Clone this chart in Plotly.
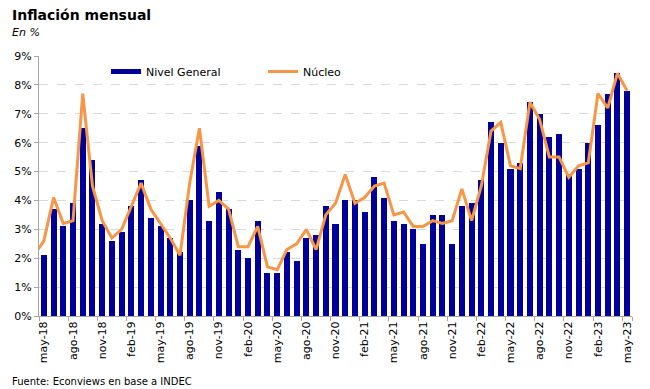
import plotly.graph_objects as go

# Month labels (abr-18 is only used for the line segment entering the plot)
meses = ["abr-18", "may-18", "jun-18", "jul-18", "ago-18", "sep-18", "oct-18", "nov-18", "dic-18",
         "ene-19", "feb-19", "mar-19", "abr-19", "may-19", "jun-19", "jul-19", "ago-19", "sep-19", "oct-19", "nov-19", "dic-19",
         "ene-20", "feb-20", "mar-20", "abr-20", "may-20", "jun-20", "jul-20", "ago-20", "sep-20", "oct-20", "nov-20", "dic-20",
         "ene-21", "feb-21", "mar-21", "abr-21", "may-21", "jun-21", "jul-21", "ago-21", "sep-21", "oct-21", "nov-21", "dic-21",
         "ene-22", "feb-22", "mar-22", "abr-22", "may-22", "jun-22", "jul-22", "ago-22", "sep-22", "oct-22", "nov-22", "dic-22",
         "ene-23", "feb-23", "mar-23", "abr-23", "may-23"]

# Nivel General, may-18 .. may-23 (%)
nivel_general = [2.1, 3.7, 3.1, 3.9, 6.5, 5.4, 3.2, 2.6,
                 2.9, 3.8, 4.7, 3.4, 3.1, 2.7, 2.2, 4.0, 5.9, 3.3, 4.3, 3.7,
                 2.3, 2.0, 3.3, 1.5, 1.5, 2.2, 1.9, 2.7, 2.8, 3.8, 3.2, 4.0,
                 4.0, 3.6, 4.8, 4.1, 3.3, 3.2, 3.0, 2.5, 3.5, 3.5, 2.5, 3.8,
                 3.9, 4.7, 6.7, 6.0, 5.1, 5.3, 7.4, 7.0, 6.2, 6.3, 4.9, 5.1,
                 6.0, 6.6, 7.7, 8.4, 7.8]

# Núcleo, abr-18 .. may-23 (%)
nucleo = [2.1, 2.6, 4.1, 3.2, 3.3, 7.7, 4.5, 3.3, 2.7,
          3.0, 3.8, 4.6, 3.7, 3.2, 2.7, 2.1, 4.6, 6.5, 3.8, 4.0, 3.7,
          2.4, 2.4, 3.1, 1.7, 1.6, 2.3, 2.5, 3.0, 2.3, 3.5, 3.9, 4.9,
          3.9, 4.1, 4.5, 4.6, 3.5, 3.6, 3.1, 3.1, 3.3, 3.2, 3.3, 4.4,
          3.3, 4.5, 6.4, 6.7, 5.2, 5.1, 7.4, 6.8, 5.5, 5.5, 4.8, 5.2,
          5.3, 7.7, 7.2, 8.4, 7.8]

y_ticks = [0, 1, 2, 3, 4, 5, 6, 7, 8, 9]

x_line = list(range(-1, len(meses) - 1))
x_bar = list(range(0, len(nivel_general)))
tick_idx = list(range(0, len(nivel_general), 3))
tick_txt = [meses[i + 1] for i in tick_idx]

BLUE = "#000099"
ORANGE = "#F79646"
FONT = "DejaVu Sans"

fig = go.Figure()
fig.add_trace(go.Bar(x=x_bar, y=nivel_general, marker=dict(color=BLUE, line=dict(width=0)),
                     width=0.62, showlegend=False, name="Nivel General"))
# legend proxies
fig.add_trace(go.Scatter(x=[None], y=[None], mode="lines", line=dict(color=BLUE, width=5),
                         name="Nivel General"))
fig.add_trace(go.Scatter(x=x_line, y=nucleo, mode="lines", line=dict(color=ORANGE, width=3),
                         name="Núcleo", cliponaxis=True))

L, R, T, B = 39, 18, 56, 73
W, H = 650, 389
pw, ph = W - L - R, H - T - B

def px(x):
    return (x - L) / pw

def py(y):
    return (H - B - y) / ph

fig.update_layout(
    width=W, height=H,
    margin=dict(l=L, r=R, t=T, b=B, autoexpand=False),
    paper_bgcolor="white", plot_bgcolor="white",
    font=dict(family=FONT, size=11, color="black"),
    bargap=0,
    legend=dict(orientation="h", x=px(106), y=py(57), xanchor="left", yanchor="top",
                bgcolor="rgba(0,0,0,0)", font=dict(size=11, family=FONT),
                entrywidth=112, entrywidthmode="pixels", itemwidth=30),
    xaxis=dict(range=[-0.5, len(nivel_general) - 0.5], tickmode="array", tickvals=tick_idx,
               ticktext=tick_txt, tickangle=-90, ticks="", showgrid=False, automargin=False,
               showline=True, linecolor="#A6A6A6", linewidth=1,
               tickfont=dict(size=11, family=FONT),
               minor=dict(tickmode="array", tickvals=[i - 0.5 for i in tick_idx] + [60.5],
                          ticks="outside", ticklen=4, tickcolor="#A6A6A6", showgrid=False),
               zeroline=False),
    yaxis=dict(range=[0, 9], tickmode="array", tickvals=y_ticks, automargin=False,
               ticktext=[f"{v}%" for v in y_ticks], ticks="outside", ticklen=4,
               tickcolor="#A6A6A6", showline=True, linecolor="#A6A6A6", linewidth=1,
               showgrid=True, gridcolor="#D9D9D9", griddash="dash", gridwidth=1,
               zeroline=False, tickfont=dict(size=11, family=FONT)),
    annotations=[
        dict(text="<b>Inflación mensual</b>", xref="paper", yref="paper", x=px(10), y=py(15),
             xanchor="left", yanchor="middle", showarrow=False, font=dict(size=14, family=FONT)),
        dict(text="<i>En %</i>", xref="paper", yref="paper", x=px(10), y=py(32),
             xanchor="left", yanchor="middle", showarrow=False, font=dict(size=11, family=FONT)),
        dict(text="Fuente: Econviews en base a INDEC", xref="paper", yref="paper", x=px(10), y=py(381),
             xanchor="left", yanchor="middle", showarrow=False, font=dict(size=10, family=FONT)),
    ],
)

fig.write_html("out.html", config={"displayModeBar": False},
               post_script="document.body.style.margin='0';document.body.style.overflow='hidden';")
